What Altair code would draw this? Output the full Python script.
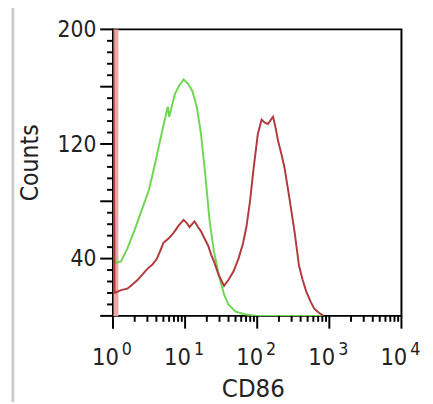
import altair as alt
import pandas as pd

# ---- data ----
green_x = [1.0, 1.08, 1.29, 1.58, 2.0, 2.51, 3.16, 3.98, 5.01, 5.75, 6.03, 7.24, 8.32, 9.55,
           11.0, 12.6, 14.5, 16.6, 19.1, 21.9, 25.1, 29.5, 34.7, 39.8, 50.1, 69.2, 100, 316, 794]
green_y = [120, 37, 38, 47, 60, 74, 88, 110, 133, 146, 139, 155, 161, 165,
           162, 157, 146, 127, 98, 66, 45, 28, 15, 8, 3, 1, 0, 0, 0]

red_x = [1.0, 1.0, 1.05, 1.29, 1.58, 1.86, 2.19, 2.57, 3.02, 3.55, 4.07, 4.57, 5.01, 5.89,
         6.92, 8.13, 9.55, 10.5, 11.5, 13.5, 15.1, 16.6, 18.6, 20.9, 22.9, 25.1, 29.5, 34.7,
         39.8, 46.8, 55.0, 63.1, 70.8, 79.4, 89.1, 102, 115, 126, 141, 155, 166, 182, 195,
         219, 240, 282, 331, 380, 427, 479, 550, 617, 724, 832]
red_y = [0, 250, 16, 18, 19, 22, 25, 29, 33, 36, 40, 46, 51, 54,
         58, 63, 67, 65, 62, 66, 62, 59, 54, 49, 43, 38, 28, 21,
         25, 31, 40, 50, 62, 80, 103, 127, 137, 135, 134, 137, 139, 130, 122,
         112, 103, 81, 58, 35, 25, 17, 10, 5, 2, 0]

x_major = [1, 10, 100, 1000, 10000]
x_exps = ["0", "1", "2", "3", "4"]
x_minor = [m * 10 ** k for k in range(4) for m in range(2, 10)]
y_major = [0, 40, 80, 120, 160, 200]
y_labeled = [40, 120, 200]
y_minor = [v for v in range(0, 201, 8) if v % 40 != 0]
x_title = "CD86"
y_title = "Counts"

GREEN = "#6fd653"
RED = "#b23a3c"
PINK = "#eaa7a7"
FONT = "DejaVu Sans Condensed"
TXT = "#222222"
W, H = 294, 292

green_df = pd.DataFrame({"cd86": green_x, "count": green_y, "i": range(len(green_x))})
red_df = pd.DataFrame({"cd86": red_x, "count": red_y, "i": range(len(red_x))})
spike_df = pd.DataFrame({"cd86": [red_x[0]], "lo": [0], "hi": [200]})
xmaj_df = pd.DataFrame({"cd86": x_major, "base": ["10"] * len(x_major), "exp": x_exps})
xmin_df = pd.DataFrame({"cd86": x_minor})
ymaj_df = pd.DataFrame({"count": y_major})
ymin_df = pd.DataFrame({"count": y_minor})
ylab_df = pd.DataFrame({"count": y_labeled, "lab": [str(v) for v in y_labeled]})
title_df = pd.DataFrame({"a": [0]})

xs = alt.Scale(type="log", domain=[1, 10000])
ys = alt.Scale(domain=[0, 200])
X = alt.X("cd86:Q", scale=xs, axis=None)
Y = alt.Y("count:Q", scale=ys, axis=None)

spike = alt.Chart(spike_df).mark_rule(color=PINK, strokeWidth=5, xOffset=3).encode(
    x=X, y=alt.Y("lo:Q", scale=ys, axis=None), y2="hi:Q")

green_line = alt.Chart(green_df).mark_line(clip=True, strokeWidth=2, color=GREEN).encode(
    x=X, y=Y, order="i:Q")
red_line = alt.Chart(red_df).mark_line(clip=True, strokeWidth=2, color=RED).encode(
    x=X, y=Y, order="i:Q")

# axis ticks
xmaj_ticks = alt.Chart(xmaj_df).mark_rule(color="black", strokeWidth=2).encode(
    x=X, y=alt.value(H), y2=alt.value(H + 13))
xmin_ticks = alt.Chart(xmin_df).mark_rule(color="black", strokeWidth=2).encode(
    x=X, y=alt.value(H), y2=alt.value(H + 6))
ymaj_ticks = alt.Chart(ymaj_df).mark_rule(color="black", strokeWidth=2).encode(
    y=Y, x=alt.value(-13), x2=alt.value(0))
ymin_ticks = alt.Chart(ymin_df).mark_rule(color="black", strokeWidth=2).encode(
    y=Y, x=alt.value(-6), x2=alt.value(0))

# tick labels
ylabels = alt.Chart(ylab_df).mark_text(align="right", baseline="middle", dx=-17, dy=1,
                                       fontSize=23, font=FONT, color=TXT).encode(
    y=Y, x=alt.value(0), text="lab:N")
base_lbl = alt.Chart(xmaj_df).mark_text(align="right", baseline="alphabetic", dx=6,
                                        fontSize=24, font=FONT, color=TXT).encode(
    x=X, y=alt.value(H + 50), text="base:N")
exp_lbl = alt.Chart(xmaj_df).mark_text(align="left", baseline="alphabetic", dx=9,
                                       fontSize=18, font=FONT, color=TXT).encode(
    x=X, y=alt.value(H + 40), text="exp:N")

# axis titles
xtitle = alt.Chart(title_df).mark_text(align="center", baseline="alphabetic", fontSize=26,
                                       font=FONT, color=TXT, text=x_title).encode(
    x=alt.value(W / 2 - 4), y=alt.value(H + 83))
ytitle = alt.Chart(title_df).mark_text(align="center", baseline="middle", angle=270,
                                       fontSize=25, font=FONT, color=TXT, text=y_title).encode(
    x=alt.value(-84), y=alt.value(H / 2 - 10))

border = alt.Chart(title_df).mark_rule(color="#cccccc", strokeWidth=3).encode(
    x=alt.value(-102), y=alt.value(-30), y2=alt.value(380))

chart = alt.layer(spike, green_line, red_line, xmaj_ticks, xmin_ticks, ymaj_ticks, ymin_ticks,
                  ylabels, base_lbl, exp_lbl, xtitle, ytitle, border).properties(
    width=W, height=H,
    autosize=alt.AutoSizeParams(type="none"),
    padding={"left": 107, "top": 18, "right": 24, "bottom": 86},
).configure_view(
    stroke="black", strokeWidth=2
)

chart.save("out.html", embed_options={"renderer": "svg", "actions": False})
